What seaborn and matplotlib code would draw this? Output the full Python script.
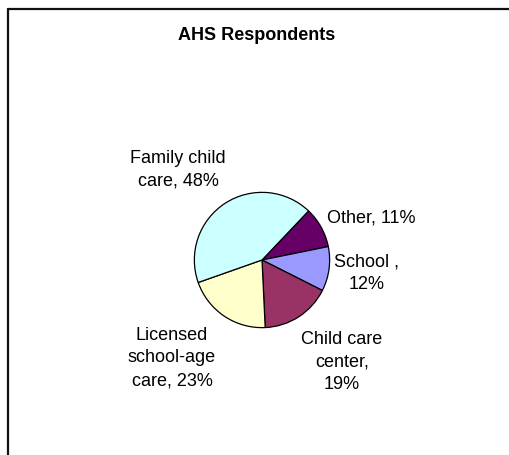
import matplotlib
matplotlib.use("Agg")
import matplotlib.pyplot as plt
import seaborn as sns
from matplotlib.lines import Line2D

# ── Data ──────────────────────────────────────────────────────────────────────
categories = ["Other", "School ", "Child care center", "Licensed school-age care", "Family child care"]
percents   = [11, 12, 19, 23, 48]
label_text = ["Other, {}%", "School ,\n{}%", "Child care\ncenter,\n{}%",
              "Licensed\nschool-age\ncare, {}%", "Family child\ncare, {}%"]
colors     = ["#660066", "#9999FF", "#993366", "#FFFFCC", "#CCFFFF"]

W, H = 509, 455
CX, CY, R = 262, 260, 69          # pie centre / radius in pixels
# label centres in pixels (x, y from top)
label_pos = [(371, 218), (367, 273), (342, 362), (172, 358), (178, 170)]

sns.set_theme(style="white")
plt.rcParams["font.family"] = ["Liberation Sans", "DejaVu Sans"]

fig = plt.figure(figsize=(W / 100, H / 100), dpi=100)
fig.patch.set_facecolor("white")

ax = fig.add_axes([(CX - R) / W, (H - CY - R) / H, 2 * R / W, 2 * R / H])
ax.pie(percents, colors=colors, startangle=46.5, counterclock=False, radius=1,
       wedgeprops={"edgecolor": "black", "linewidth": 0.9})
ax.set_xlim(-1.02, 1.02)
ax.set_ylim(-1.02, 1.02)
ax.set_aspect("equal")
ax.axis("off")

for tmpl, pct, (px, py) in zip(label_text, percents, label_pos):
    fig.text(px / W, 1 - py / H, tmpl.format(pct), ha="center", va="center",
             fontsize=13, color="black", linespacing=1.45)

fig.text(257 / W, 1 - 35 / H, "AHS Respondents", ha="center", va="center",
         fontsize=13, fontweight="bold", color="black")

# chart-area frame (only top and left edges visible)
fig.add_artist(Line2D([8 / W, 8 / W], [0, 1 - 9 / H], transform=fig.transFigure,
                      color="#111111", linewidth=1.6))
fig.add_artist(Line2D([8 / W, 1], [1 - 9 / H, 1 - 9 / H], transform=fig.transFigure,
                      color="#111111", linewidth=1.6))

fig.savefig("out.png", dpi=100)
plt.close(fig)
